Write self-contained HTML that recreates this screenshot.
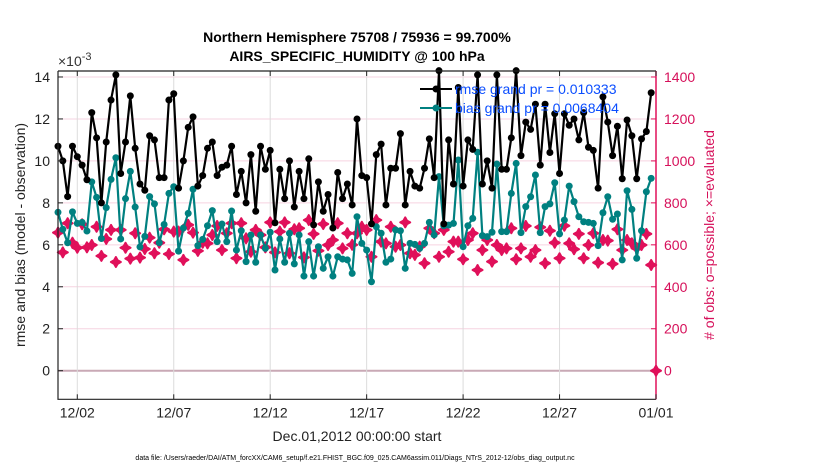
<!DOCTYPE html>
<html><head><meta charset="utf-8"><style>
body{margin:0;background:#fff;}
svg{display:block;font-family:"Liberation Sans",sans-serif;}
</style></head><body>
<svg id="chart" width="830" height="470" viewBox="0 0 830 470">
<g id="grid"></g>
<g id="marks"></g>
<g id="axes"></g>
<text x="357" y="42" text-anchor="middle" font-size="14" font-weight="bold">Northern Hemisphere 75708 / 75936 = 99.700%</text>
<text x="357" y="61" text-anchor="middle" font-size="14" font-weight="bold">AIRS_SPECIFIC_HUMIDITY @ 100 hPa</text>
<text x="58" y="66" font-size="14" fill="#333">×10<tspan dy="-6" font-size="11">-3</tspan></text>
<text transform="translate(25,235) rotate(-90)" text-anchor="middle" font-size="14" fill="#222">rmse and bias (model - observation)</text>
<text transform="translate(714,235) rotate(-90)" text-anchor="middle" font-size="14" fill="#d6105a"># of obs: o=possible; ×=evaluated</text>
<text x="357" y="441" text-anchor="middle" font-size="14" fill="#222">Dec.01,2012 00:00:00 start</text>
<text x="355" y="460" text-anchor="middle" font-size="7" fill="#000">data file: /Users/raeder/DAI/ATM_forcXX/CAM6_setup/f.e21.FHIST_BGC.f09_025.CAM6assim.011/Diags_NTrS_2012-12/obs_diag_output.nc</text>
<g id="legendg">
<line x1="420" y1="89" x2="452" y2="89" stroke="#000" stroke-width="2"/>
<circle cx="436" cy="89" r="3.5" fill="#000"/>
<text x="455" y="94" font-size="14" fill="#0a4dff">rmse grand pr = 0.010333</text>
<line x1="420" y1="108" x2="452" y2="108" stroke="#008080" stroke-width="2"/>
<circle cx="436" cy="108" r="3.5" fill="#008080"/>
<text x="455" y="113" font-size="14" fill="#0a4dff">bias grand pr = 0.0068404</text>
</g>
</svg>
<script>
const rmse = [10.7,10.0,8.3,10.7,10.2,9.8,9.1,12.3,11.1,8.0,10.9,12.9,14.1,9.4,10.9,13.1,10.6,8.9,8.6,11.2,11.0,9.2,9.2,12.9,13.2,8.7,10.0,11.6,12.1,8.8,9.3,
10.6,10.9,9.3,9.7,9.8,10.7,8.4,9.5,8.0,10.3,7.6,10.7,9.6,10.5,7.05,9.6,8.2,10.0,7.8,9.5,8.2,10.1,6.95,9.0,7.6,8.4,6.8,9.45,8.2,8.9,7.9,
12.0,9.3,9.2,7.0,10.3,10.8,7.9,9.65,9.65,11.3,7.9,9.5,8.8,8.7,9.65,11.05,9.2,14.3,7.0,11.0,8.9,13.5,8.8,11.0,10.55,14.1,8.9,10.0,8.7,14.1,9.6,
9.6,11.1,14.3,10.25,11.85,11.5,12.7,9.8,12.7,10.4,12.25,9.4,12.25,11.7,12.0,11.0,12.3,10.65,10.5,8.7,13.05,11.85,10.25,11.65,9.15,11.95,11.2,9.15,11.05,11.4,13.25];
const bias = [7.55,6.74,6.1,7.57,7.02,7.07,6.66,9.0,8.26,6.3,7.77,9.12,10.15,6.28,8.2,9.5,7.8,5.9,6.4,8.3,7.95,6.1,6.97,8.45,8.77,5.7,6.8,7.5,8.65,5.96,6.26,
6.91,7.63,6.15,6.99,6.15,7.61,5.75,6.67,5.2,6.47,5.17,6.47,5.83,6.6,4.8,6.28,5.17,6.55,5.09,6.47,4.51,6.15,4.51,5.91,4.88,5.43,4.51,5.43,5.32,5.28,4.64,
7.34,6.07,5.75,4.24,6.86,6.55,5.17,5.32,6.71,6.67,4.88,6.07,6.02,5.83,6.07,7.07,6.47,9.25,6.91,6.94,7.02,10.04,5.91,6.91,7.26,10.41,6.44,6.39,6.6,9.85,6.63,
6.63,8.45,9.88,6.58,7.82,8.29,9.33,6.58,7.82,7.95,8.96,6.52,7.18,8.8,8.06,7.34,7.1,7.07,7.02,5.96,7.53,8.29,7.22,7.47,5.28,8.58,7.69,5.36,6.67,8.53,9.17];
const counts = [658,564,703,610,586,698,588,599,686,547,628,671,518,671,586,534,655,539,580,634,560,610,674,556,663,663,528,695,658,571,610,
607,647,690,575,655,703,536,703,631,567,671,647,588,707,564,663,707,560,674,679,540,718,652,572,699,599,623,703,583,655,600,
655,686,671,543,718,615,607,686,591,599,707,560,552,591,512,679,655,543,671,567,615,615,531,623,655,480,575,623,520,599,575,
583,679,531,583,690,543,575,684,512,667,610,536,691,607,579,652,536,599,655,515,623,620,509,674,575,623,607,583,599,652,504];
const finalCount = 0;
const leftTicks = [0,2,4,6,8,10,12,14];
const rightTicks = [0,200,400,600,800,1000,1200,1400];
const dayTicks = [1,6,11,16,21,26,31];
const dayLabels = ["12/02","12/07","12/12","12/17","12/22","12/27","01/01"];
const stepDays = 0.25;

const NS="http://www.w3.org/2000/svg";
const X0=58, X1=656, T0=0, T1=31;
const YB=399.3, YT=71, Y0=370.7, PX_PER_UNIT=20.98;
const xs=t=>X0+(t-T0)/(T1-T0)*(X1-X0);
const yl=v=>Y0-v*PX_PER_UNIT;
const yr=c=>Y0-c/1400*(14*PX_PER_UNIT);
function mk(tag,attrs,parent){const e=document.createElementNS(NS,tag);for(const k in attrs)e.setAttribute(k,attrs[k]);parent.appendChild(e);return e;}
const grid=document.getElementById('grid'),marks=document.getElementById('marks'),axes=document.getElementById('axes');

mk('rect',{x:X0,y:YT,width:X1-X0,height:YB-YT,fill:'#fff'},grid);
leftTicks.forEach(v=>{const l=mk('line',{x1:X0,x2:X1,y1:yl(v),y2:yl(v),stroke:v===0?'#c9a9b5':'#f6d3e0','stroke-width':v===0?2:1},grid);

});
dayTicks.forEach(d=>{const l=mk('line',{x1:xs(d),x2:xs(d),y1:YT,y2:YB,stroke:'#dcdcdc','stroke-width':1},grid);

});

function series(arr,color,name){
 const pts=arr.map((v,i)=>xs(i*stepDays).toFixed(1)+','+yl(v).toFixed(1)).join(' ');
 const pl=mk('polyline',{points:pts,fill:'none',stroke:color,'stroke-width':2.2,'stroke-linejoin':'round'},marks);
 
 
 arr.forEach((v,i)=>{const c=mk('circle',{cx:xs(i*stepDays),cy:yl(v),r:3.5,fill:color},marks);
 
 });
}
function star(x,y){const s=5,w=1.8;return `${x},${y-s} ${x+w},${y-w} ${x+s},${y} ${x+w},${y+w} ${x},${y+s} ${x-w},${y+w} ${x-s},${y} ${x-w},${y-w}`;}
counts.forEach((c,i)=>{const p=mk('polygon',{points:star(xs(i*stepDays),yr(c)),fill:'#e0105a',stroke:'#e0105a','stroke-width':2,'stroke-linejoin':'round'},marks);

});
{const p=mk('polygon',{points:star(xs(T1),yr(finalCount)),fill:'#e0105a',stroke:'#e0105a','stroke-width':2,'stroke-linejoin':'round'},marks);

}
series(bias,'#008080','bias');
series(rmse,'#000000','rmse');
marks.appendChild(document.getElementById('legendg'));

const la=mk('path',{d:`M${X0},${YT}V${YB}H${X1}`,fill:'none',stroke:'#222','stroke-width':1.2},axes);


const ta=mk('line',{x1:X0,x2:X1,y1:YT,y2:YT,stroke:'#222','stroke-width':1.2},axes);


const ra=mk('line',{x1:X1,x2:X1,y1:YT,y2:YB,stroke:'#e0105a','stroke-width':1.5},axes);


leftTicks.forEach(v=>{mk('line',{x1:X0,x2:X0+5,y1:yl(v),y2:yl(v),stroke:'#222'},axes);
const t=mk('text',{x:X0-8,y:yl(v)+5,'text-anchor':'end','font-size':14,fill:'#222'},axes);t.textContent=v;

});
rightTicks.forEach(v=>{mk('line',{x1:X1-5,x2:X1,y1:yr(v),y2:yr(v),stroke:'#e0105a'},axes);
const t=mk('text',{x:X1+8,y:yr(v)+5,'font-size':14,fill:'#d6105a'},axes);t.textContent=v;

});
dayTicks.forEach((d,i)=>{mk('line',{x1:xs(d),x2:xs(d),y1:YB,y2:YB-5,stroke:'#222'},axes);
mk('line',{x1:xs(d),x2:xs(d),y1:YT,y2:YT+5,stroke:'#222'},axes);
const t=mk('text',{x:xs(d),y:YB+18,'text-anchor':'middle','font-size':14,fill:'#222'},axes);t.textContent=dayLabels[i];

});
</script>
</body></html>
